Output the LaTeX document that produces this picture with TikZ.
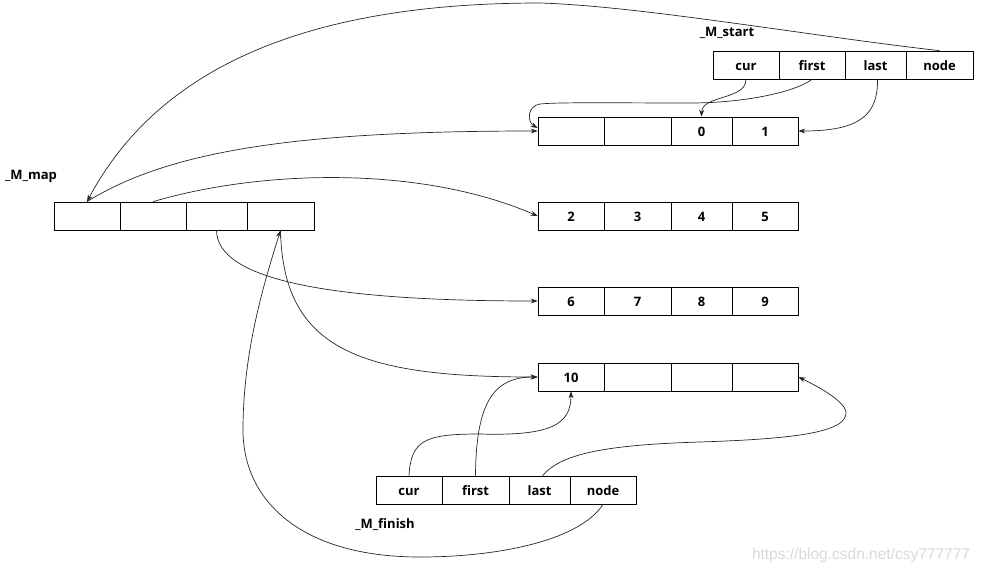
\documentclass[tikz,border=0pt]{standalone}
\usepackage{fontspec}
\setmainfont{Open Sans}
\newfontfamily\wmfont{Liberation Sans}
\usetikzlibrary{arrows.meta}
\begin{document}
\begin{tikzpicture}[x=1pt,y=-1pt,
  cell/.style={draw=black, line width=0.7pt, minimum height=28pt, inner sep=0pt,
    text height=11pt, text depth=0pt,
    font=\fontsize{13}{15}\selectfont\bfseries},
  lbl/.style={font=\fontsize{13}{15}\selectfont\bfseries, inner sep=0pt},
  conn/.style={line width=0.7pt, draw=black!85},
  arr/.style={conn, -{Stealth[length=7pt,width=5pt]}}]
\useasboundingbox (0,0) rectangle (982,574);
% _M_start
\node[cell, minimum width=66pt] (s1) at (746,65) {cur};
\node[cell, minimum width=66pt] (s2) at (812,65) {first};
\node[cell, minimum width=61pt] (s3) at (875.5,65) {last};
\node[cell, minimum width=67pt] (s4) at (939.5,65) {node};
\node[lbl] (lstart) at (727,33) {\_M\_start};
% rows
\node[cell, minimum width=66pt] (r11) at (571,131) {};
\node[cell, minimum width=67pt] (r12) at (637.5,131) {};
\node[cell, minimum width=61pt] (r13) at (701.5,131) {0};
\node[cell, minimum width=66pt] (r14) at (765,131) {1};
\node[cell, minimum width=66pt] (r21) at (571,216) {2};
\node[cell, minimum width=67pt] (r22) at (637.5,216) {3};
\node[cell, minimum width=61pt] (r23) at (701.5,216) {4};
\node[cell, minimum width=66pt] (r24) at (765,216) {5};
\node[cell, minimum width=66pt] (r31) at (571,301) {6};
\node[cell, minimum width=67pt] (r32) at (637.5,301) {7};
\node[cell, minimum width=61pt] (r33) at (701.5,301) {8};
\node[cell, minimum width=66pt] (r34) at (765,301) {9};
\node[cell, minimum width=66pt] (r41) at (571,377) {10};
\node[cell, minimum width=67pt] (r42) at (637.5,377) {};
\node[cell, minimum width=61pt] (r43) at (701.5,377) {};
\node[cell, minimum width=66pt] (r44) at (765,377) {};
% _M_map
\node[cell, minimum width=66pt] (m1) at (87,216) {};
\node[cell, minimum width=66pt] (m2) at (153,216) {};
\node[cell, minimum width=61pt] (m3) at (216.5,216) {};
\node[cell, minimum width=67pt] (m4) at (280.5,216) {};
\node[lbl] (lmap) at (31,176) {\_M\_map};
% _M_finish
\node[cell, minimum width=66pt] (f1) at (409,490) {cur};
\node[cell, minimum width=67pt] (f2) at (475.5,490) {first};
\node[cell, minimum width=61pt] (f3) at (539.5,490) {last};
\node[cell, minimum width=66pt] (f4) at (603,490) {node};
\node[lbl] (lfinish) at (385,525) {\_M\_finish};
% watermark
\node[font=\wmfont\fontsize{15.5}{17}\selectfont, text=black!15, inner sep=0pt] (wm) at (861,555) {https://blog.csdn.net/csy777777};
% connectors
\draw[arr] (s4.north) .. controls (810,36) and (640,6) .. (540,3)
  .. controls (330,3) and (165,55) .. (m1.north);
\draw[arr] (m1.north) .. controls (170,150) and (300,131) .. (r11.west);
\draw[arr] (m2.north) .. controls (260,170) and (420,165) .. (r21.west);
\draw[arr] (m3.south) .. controls (217,280) and (330,301) .. (r31.west);
\draw[arr] (m4.south) .. controls (283,350) and (360,377) .. (r41.west);
\draw[arr] (s1.south) .. controls (746,100) and (702,95) .. (r13.north);
\draw[arr] (s2.south) .. controls (795,92) and (745,103) .. (690,103)
  .. controls (620,103) and (560,102) .. (540,104)
  .. controls (527,106) and (527,122) .. ([yshift=3pt]r11.west);
\draw[arr] ([xshift=2pt]s3.south) .. controls (878,115) and (860,131) .. (r14.east);
\draw[arr] (f4.south) .. controls (580,540) and (500,557) .. (420,557)
  .. controls (300,557) and (243,500) .. (243,430)
  .. controls (243,350) and (265,280) .. (m4.south);
\draw[arr] (f1.north) .. controls (411,440) and (425,434) .. (480,434)
  .. controls (550,436) and (571,425) .. (r41.south);
\draw[arr] (f2.north) .. controls (476,400) and (495,377) .. (r41.west);
\draw[arr] ([xshift=3pt]f3.north) .. controls (560,455) and (600,445) .. (700,442)
  .. controls (790,439) and (848,433) .. (846,412)
  .. controls (844,400) and (815,385) .. (r44.east);
\end{tikzpicture}
\end{document}
